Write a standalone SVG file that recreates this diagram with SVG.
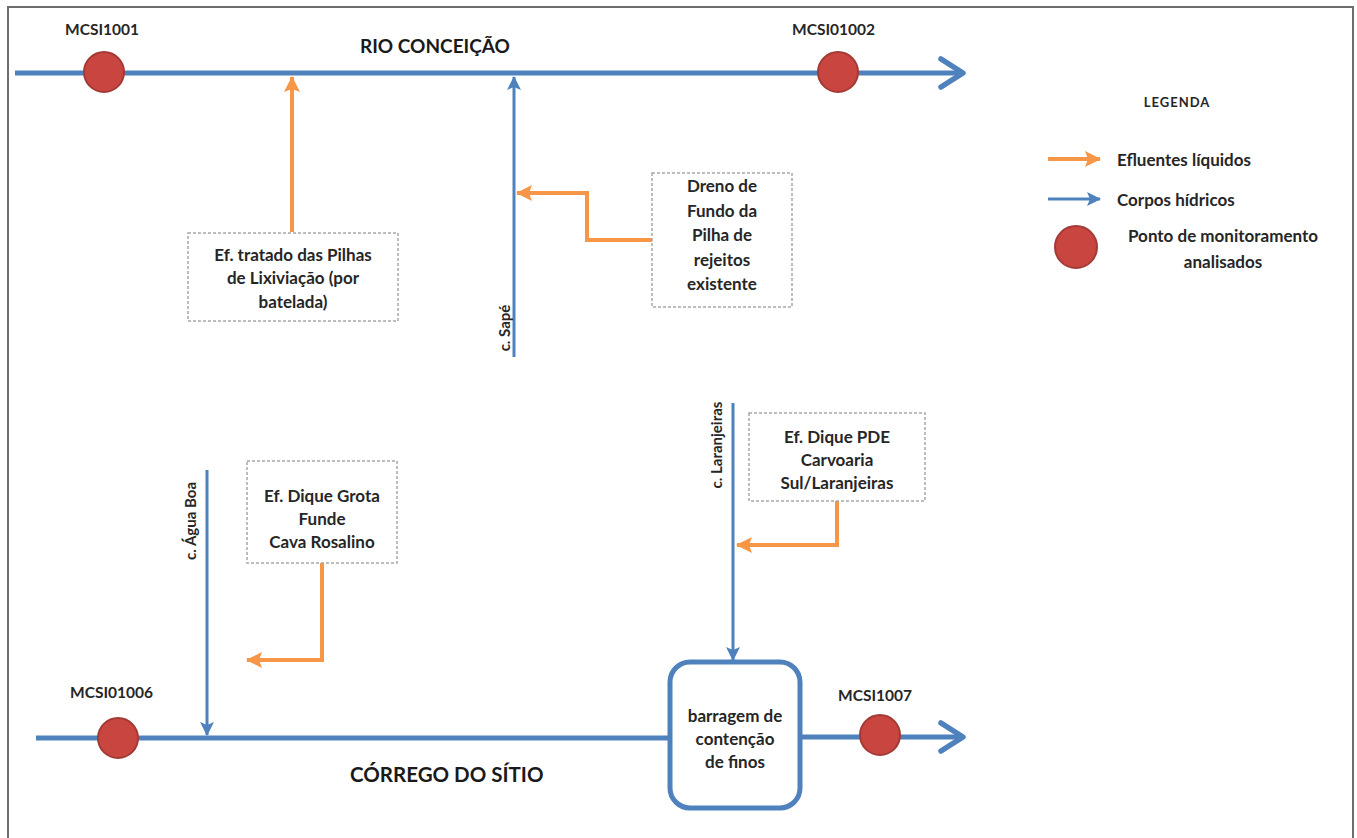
<svg xmlns="http://www.w3.org/2000/svg" width="1357" height="838" viewBox="0 0 1357 838">
<style>
.frame{fill:none;stroke:#6e6e6e;stroke-width:2}
.river{fill:none;stroke:#4F81BD;stroke-width:5}
.trib{fill:none;stroke:#4F81BD;stroke-width:3}
.eff{fill:none;stroke:#F79646;stroke-width:4}
.pt{fill:#C8463F;stroke:#A33A36;stroke-width:2}
.box{fill:#fff;stroke:#a8a8a8;stroke-width:1.5;stroke-dasharray:3 2}
.dam{fill:#fff;stroke:#4F81BD;stroke-width:5}
text{font-family:Lato,"Open Sans","Liberation Sans",sans-serif;font-weight:bold;fill:#262626}
.t{font-size:17px;text-anchor:middle}
.lbl{font-size:15.5px}
.big{font-size:19px;fill:#1a1a1a}
.leg{font-size:17px}
.rot{font-size:15px;text-anchor:middle}
</style>
<defs>
<marker id="chev" markerUnits="userSpaceOnUse" viewBox="0 0 30 34" refX="27" refY="17" markerWidth="30" markerHeight="34" orient="auto">
<path d="M5,3 L27,17 L5,31" fill="none" stroke="#4F81BD" stroke-width="5.5" stroke-linecap="round" stroke-linejoin="round"/>
</marker>
<marker id="ab" markerUnits="userSpaceOnUse" viewBox="0 0 14 14" refX="13" refY="7" markerWidth="14" markerHeight="14" orient="auto">
<path d="M0,0 L14,7 L0,14 L3,7 z" fill="#4F81BD"/>
</marker>
<marker id="ao" markerUnits="userSpaceOnUse" viewBox="0 0 16 16" refX="15" refY="8" markerWidth="16" markerHeight="16" orient="auto">
<path d="M0,0 L16,8 L0,16 L3,8 z" fill="#F79646"/>
</marker>
</defs>
<rect width="1357" height="838" fill="#fff"/>
<path class="frame" d="M8,840 L8,7 L1353,7 L1353,840"/>

<g id="connectors">
<line class="river" x1="15" y1="73" x2="963" y2="73" marker-end="url(#chev)"/>
<line class="eff" x1="292" y1="232" x2="292" y2="77" marker-end="url(#ao)"/>
<line class="trib" x1="514" y1="357" x2="514" y2="77" marker-end="url(#ab)"/>
<polyline class="eff" points="652,240 587,240 587,193 517,193" marker-end="url(#ao)"/>
<line class="trib" x1="207" y1="470" x2="207" y2="735" marker-end="url(#ab)"/>
<polyline class="eff" points="322,563 322,660 247,660" marker-end="url(#ao)"/>
<line class="trib" x1="733" y1="403" x2="733" y2="660" marker-end="url(#ab)"/>
<polyline class="eff" points="837,501 837,545 737,545" marker-end="url(#ao)"/>
<line class="river" x1="36" y1="738" x2="670" y2="738"/>
<line class="river" x1="800" y1="737" x2="963" y2="737" marker-end="url(#chev)"/>
</g>

<g id="rio-conceicao"><text class="big" x="360" y="53">RIO CONCEIÇÃO</text></g>
<g id="corrego-sitio"><text class="big" x="350" y="782" style="font-size:20.5px">CÓRREGO DO SÍTIO</text></g>

<g id="MCSI1001"><circle class="pt" cx="104" cy="72" r="20"/><text class="lbl" x="65" y="35">MCSI1001</text></g>
<g id="MCSI01002"><circle class="pt" cx="838" cy="72" r="20"/><text class="lbl" x="792" y="35">MCSI01002</text></g>
<g id="MCSI01006"><circle class="pt" cx="118" cy="738" r="20"/><text class="lbl" x="70" y="698">MCSI01006</text></g>
<g id="MCSI1007"><circle class="pt" cx="880" cy="735" r="20"/><text class="lbl" x="838" y="701">MCSI1007</text></g>

<g id="ef-tratado">
<rect class="box" x="188" y="233" width="210" height="88"/>
<text class="t" x="293" y="261">Ef. tratado das Pilhas</text>
<text class="t" x="293" y="284">de Lixiviação (por</text>
<text class="t" x="293" y="308">batelada)</text>
</g>

<g id="dreno">
<rect class="box" x="652" y="173" width="140" height="134"/>
<text class="t" x="722" y="192">Dreno de</text>
<text class="t" x="722" y="217">Fundo da</text>
<text class="t" x="722" y="241">Pilha de</text>
<text class="t" x="722" y="266">rejeitos</text>
<text class="t" x="722" y="290">existente</text>
</g>

<g id="c-sape"><text class="rot" transform="translate(510,328) rotate(-90)">c. Sapé</text></g>
<g id="c-agua-boa"><text class="rot" transform="translate(196,521) rotate(-90)">c. Água Boa</text></g>
<g id="c-laranjeiras"><text class="rot" transform="translate(722,445) rotate(-90)">c. Laranjeiras</text></g>

<g id="ef-grota">
<rect class="box" x="247" y="461" width="150" height="102"/>
<text class="t" x="322" y="502">Ef. Dique Grota</text>
<text class="t" x="322" y="525">Funde</text>
<text class="t" x="322" y="548">Cava Rosalino</text>
</g>

<g id="ef-pde">
<rect class="box" x="749" y="413" width="176" height="88"/>
<text class="t" x="837" y="443">Ef. Dique PDE</text>
<text class="t" x="837" y="466">Carvoaria</text>
<text class="t" x="837" y="489">Sul/Laranjeiras</text>
</g>

<g id="barragem">
<rect class="dam" x="670" y="662" width="130" height="146" rx="20"/>
<text class="t" x="735" y="722">barragem de</text>
<text class="t" x="735" y="745">contenção</text>
<text class="t" x="735" y="768">de finos</text>
</g>

<g id="legenda">
<text x="1177" y="107" style="font-size:13px;letter-spacing:1px;text-anchor:middle">LEGENDA</text>
<line class="eff" x1="1048" y1="159" x2="1100" y2="159" marker-end="url(#ao)"/>
<text class="leg" x="1117" y="166">Efluentes líquidos</text>
<line class="trib" x1="1048" y1="199" x2="1100" y2="199" marker-end="url(#ab)"/>
<text class="leg" x="1117" y="206">Corpos hídricos</text>
<circle class="pt" cx="1076" cy="247" r="21"/>
<text class="leg" x="1223" y="242" style="text-anchor:middle">Ponto de monitoramento</text>
<text class="leg" x="1223" y="268" style="text-anchor:middle">analisados</text>
</g>
</svg>
